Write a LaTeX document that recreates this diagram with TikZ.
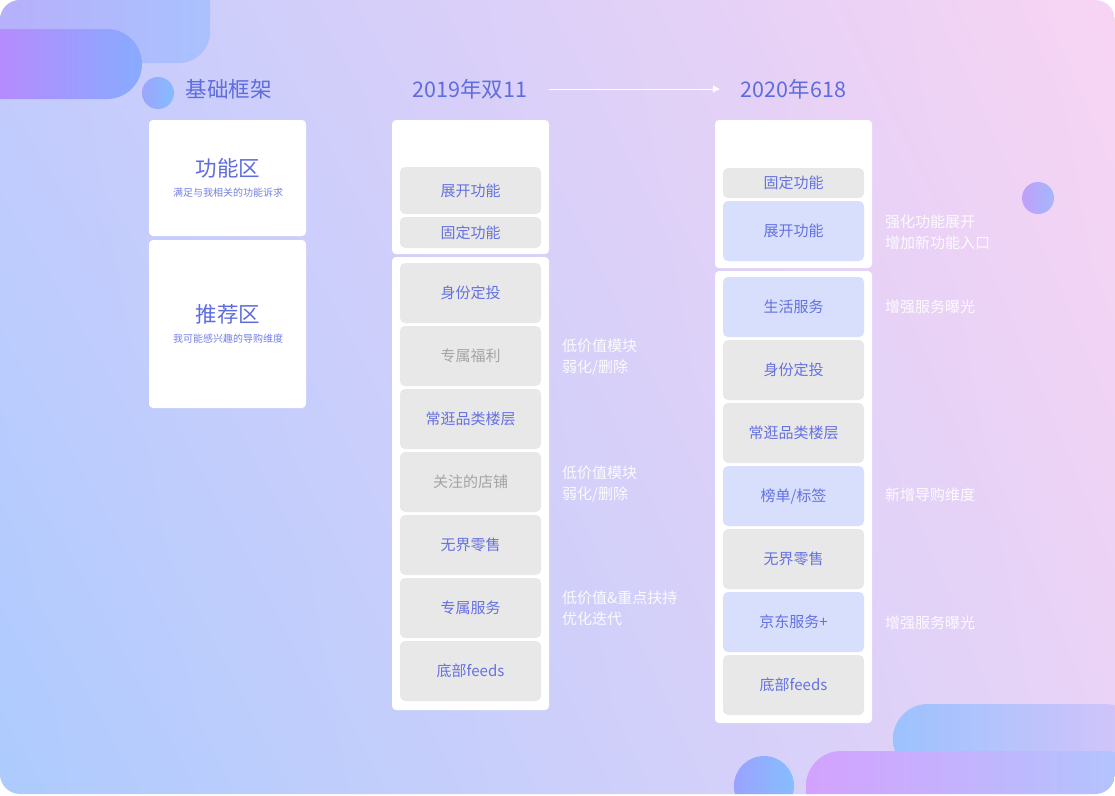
\documentclass[tikz,border=0pt]{standalone}
\usepackage{fontspec}
\setmainfont{Noto Sans CJK SC}
\usepackage{tikz}
\usetikzlibrary{arrows.meta, shadings}
\usepackage{xcolor}

\definecolor{headblue}{HTML}{5E6CE0}
\definecolor{itemtext}{HTML}{6571E1}
\definecolor{subtext}{HTML}{7480E4}
\definecolor{weaktext}{HTML}{A4A4A4}
\definecolor{itemgray}{HTML}{E8E8E8}
\definecolor{itemblue}{HTML}{D7DFFC}
\definecolor{bgll}{HTML}{ADCBFE}
\definecolor{bgul}{HTML}{C4CCFD}
\definecolor{bgur}{HTML}{F8D4F3}
\definecolor{bglr}{HTML}{E8D3F7}

\tikzset{
	panel/.style={fill=white, rounded corners=4pt, inner sep=0pt, minimum width=157pt},
	itembox/.style={fill=itemgray, rounded corners=5pt, inner sep=0pt, minimum width=141pt, minimum height=60pt, text=itemtext, font=\fontsize{15}{18}\selectfont},
	newbox/.style={itembox, fill=itemblue},
	weakbox/.style={itembox, text=weaktext},
	heading/.style={inner sep=0pt, text=headblue, font=\fontsize{21.5}{26}\selectfont},
	subnote/.style={inner sep=0pt, text=subtext, font=\fontsize{10}{12}\selectfont},
	note/.style={anchor=west, align=left, inner sep=0pt, text=white, text opacity=0.9, font=\fontsize{15}{21}\selectfont},
	flowarrow/.style={draw=white, line width=1pt, -{Triangle[length=7pt,width=7pt]}}
}

\begin{document}
\begin{tikzpicture}[x=1pt,y=-1pt]
				\useasboundingbox (0,0) rectangle (1115,795);
				% card with gradient and blobs
				\begin{scope}
					\clip[rounded corners=20pt] (0,0) rectangle (1115,794);
					\shade[lower left=bgll, upper left=bgul, upper right=bgur, lower right=bglr] (0,0) rectangle (1115,794);
					\shade[left color={rgb,255:red,186;green,172;blue,250}, right color={rgb,255:red,169;green,194;blue,254}, rounded corners=31pt] (-40,-40) rectangle (210,63);
					\shade[left color={rgb,255:red,194;green,131;blue,253}, right color={rgb,255:red,136;green,171;blue,254}, rounded corners=35pt] (-40,29) rectangle (142,99);
					\shade[left color={rgb,255:red,157;green,165;blue,253}, right color={rgb,255:red,132;green,188;blue,254}] (158,93) circle (16pt);
					\shade[left color={rgb,255:red,192;green,159;blue,250}, right color={rgb,255:red,163;green,184;blue,252}] (1038,198) circle (16pt);
					\shade[left color={rgb,255:red,156;green,194;blue,254}, right color={rgb,255:red,214;green,196;blue,249}, rounded corners=35pt] (893,704) rectangle (1140,774);
					\shade[left color={rgb,255:red,211;green,162;blue,254}, right color={rgb,255:red,177;green,198;blue,254}, rounded corners=35pt] (806,751) rectangle (1140,830);
					\shade[left color={rgb,255:red,154;green,162;blue,254}, right color={rgb,255:red,134;green,190;blue,254}] (764,786) circle (30pt);
				\end{scope}

				% headings
				\node[heading] (basehead) at (228.5,89) {基础框架};
				\node[heading] (y2019) at (470,89) {2019年双11};
				\node[heading] (y2020) at (793.5,89) {2020年618};
				\draw[flowarrow, shorten <=21pt, shorten >=21pt] (y2019.east) -- (y2020.west);

				% basic frame
				\node[panel, minimum height=116pt] (funcpanel) at (227.5,178) {};
				\node[panel, minimum height=168pt] (recpanel) at (227.5,324) {};
				\node[heading] (functitle) at (228,168.5) {功能区};
				\node[subnote] (funcsub) at (228,192.5) {满足与我相关的功能诉求};
				\node[heading] (rectitle) at (228,314) {推荐区};
				\node[subnote] (recsub) at (228,338.5) {我可能感兴趣的导购维度};

				% 2019
				\node[panel, minimum height=134pt] (oldtop) at (470.5,187) {};
				\node[panel, minimum height=453pt] (oldlist) at (470.5,483.5) {};
				\node[itembox, minimum height=47pt] (oldexpand) at (470.5,190.5) {展开功能};
				\node[itembox, minimum height=31pt] (oldfixed) at (470.5,232.5) {固定功能};
				\node[itembox] (oldid) at (470.5,293) {身份定投};
				\node[weakbox] (oldwelfare) at (470.5,356) {专属福利};
				\node[itembox] (oldfloor) at (470.5,419) {常逛品类楼层};
				\node[weakbox] (oldshop) at (470.5,482) {关注的店铺};
				\node[itembox] (oldretail) at (470.5,545) {无界零售};
				\node[itembox] (oldservice) at (470.5,608) {专属服务};
				\node[itembox] (oldfeeds) at (470.5,671) {底部feeds};
				\node[note] (oldnotea) at (562,357.5) {低价值模块\\弱化/删除};
				\node[note] (oldnoteb) at (562,484.5) {低价值模块\\弱化/删除};
				\node[note] (oldnotec) at (562,608.5) {低价值\&重点扶持\\优化迭代};

				% 2020
				\node[panel, minimum height=148pt] (newtop) at (793.5,194) {};
				\node[panel, minimum height=452pt] (newlist) at (793.5,497) {};
				\node[itembox, minimum height=30pt] (newfixed) at (793.5,183) {固定功能};
				\node[newbox] (newexpand) at (793.5,231) {展开功能};
				\node[newbox] (newlife) at (793.5,307) {生活服务};
				\node[itembox] (newid) at (793.5,370) {身份定投};
				\node[itembox] (newfloor) at (793.5,433) {常逛品类楼层};
				\node[newbox] (newrank) at (793.5,496) {榜单/标签};
				\node[itembox] (newretail) at (793.5,559) {无界零售};
				\node[newbox] (newjd) at (793.5,622) {京东服务+};
				\node[itembox] (newfeeds) at (793.5,685) {底部feeds};
				\node[note] (newnotea) at (885,232.5) {强化功能展开\\增加新功能入口};
				\node[note] (newnoteb) at (885,307) {增强服务曝光};
				\node[note] (newnotec) at (885,495) {新增导购维度};
				\node[note] (newnoted) at (885,623) {增强服务曝光};
\end{tikzpicture}
\end{document}
